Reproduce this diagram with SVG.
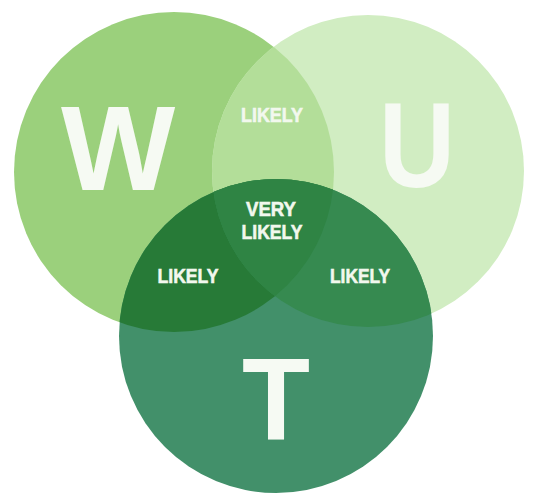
<svg xmlns="http://www.w3.org/2000/svg" width="536" height="497" viewBox="0 0 536 497">
<style>
.big{font-family:"Liberation Sans",Arial,sans-serif;font-weight:bold;fill:#f6faf3;text-anchor:middle}
.lbl{font-family:"Liberation Sans",Arial,sans-serif;font-weight:bold;font-size:21px;fill:#f2f8ee;stroke:#f2f8ee;stroke-width:0.6;text-anchor:middle}
</style>
<defs>
<clipPath id="cw"><circle cx="174" cy="172" r="160"/></clipPath>
<clipPath id="cu"><circle cx="368" cy="171" r="156"/></clipPath>
<clipPath id="ct"><circle cx="276" cy="336" r="157"/></clipPath>
</defs>
<g id="circle-w"><circle cx="174" cy="172" r="160" fill="#9bd07c"/></g>
<g id="circle-u"><circle cx="368" cy="171" r="156" fill="#d1edc2"/></g>
<g id="circle-t"><circle cx="276" cy="336" r="157" fill="#42906a"/></g>
<g id="overlap-wu" clip-path="url(#cw)"><circle cx="368" cy="171" r="156" fill="#b3de99"/></g>
<g id="overlap-wt" clip-path="url(#cw)"><circle cx="276" cy="336" r="157" fill="#277a37"/></g>
<g id="overlap-ut" clip-path="url(#cu)"><circle cx="276" cy="336" r="157" fill="#368a50"/></g>
<g id="overlap-wut" clip-path="url(#cw)"><g clip-path="url(#cu)"><circle cx="276" cy="336" r="157" fill="#2f8444"/></g></g>
<g id="labels">
<text class="big" x="118" y="190" font-size="121">W</text>
<text class="big" x="417" y="187" font-size="121" textLength="76" lengthAdjust="spacingAndGlyphs">U</text>
<text class="big" x="276" y="440" font-size="116" textLength="68" lengthAdjust="spacingAndGlyphs">T</text>
<text class="lbl" x="272" y="122" textLength="62" lengthAdjust="spacingAndGlyphs">LIKELY</text>
<text class="lbl" x="271" y="216" textLength="50" lengthAdjust="spacingAndGlyphs">VERY</text>
<text class="lbl" x="272" y="239" textLength="61" lengthAdjust="spacingAndGlyphs">LIKELY</text>
<text class="lbl" x="188" y="283" textLength="61" lengthAdjust="spacingAndGlyphs">LIKELY</text>
<text class="lbl" x="360" y="283" textLength="60" lengthAdjust="spacingAndGlyphs">LIKELY</text>
</g>
</svg>
